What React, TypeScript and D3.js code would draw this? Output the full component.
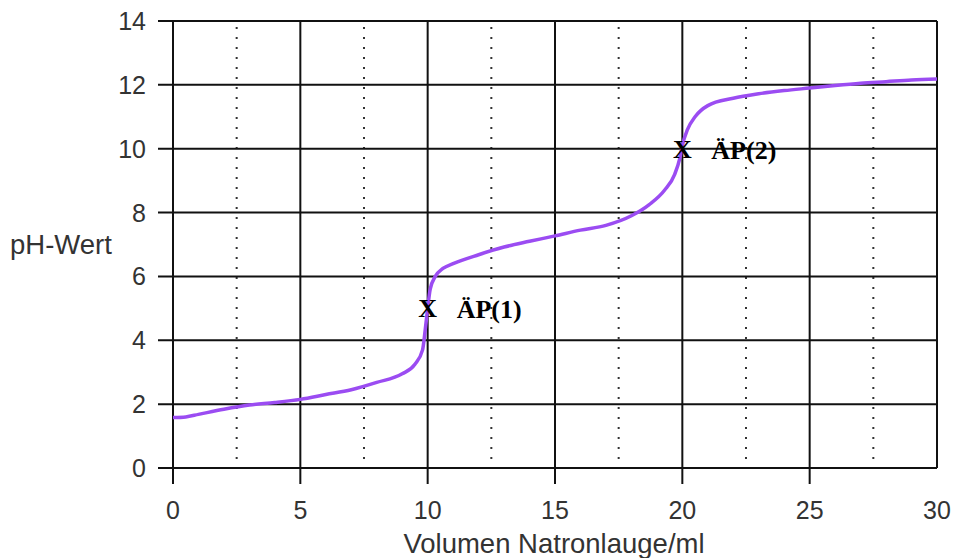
import { useRef, useEffect } from 'react';
import * as d3 from 'd3';

const volume = [0, 0.5, 1, 2, 3, 4, 5, 6, 7, 8, 9, 9.5, 9.8, 9.9, 10, 10.1, 10.3, 10.6, 11, 12, 13, 14, 15, 16, 17, 18, 18.7, 19.3, 19.7, 19.9, 20, 20.2, 20.5, 21, 22, 23, 24, 25, 26, 27, 28, 29, 30];
const ph = [1.58, 1.6, 1.68, 1.84, 1.97, 2.05, 2.15, 2.3, 2.45, 2.68, 2.95, 3.25, 3.7, 4.3, 5.0, 5.6, 6.0, 6.25, 6.4, 6.68, 6.92, 7.1, 7.27, 7.45, 7.6, 7.9, 8.25, 8.7, 9.2, 9.7, 10.1, 10.6, 11.0, 11.35, 11.58, 11.72, 11.82, 11.9, 11.98, 12.05, 12.1, 12.15, 12.18];
const xTicks = [0, 5, 10, 15, 20, 25, 30];
const yTicks = [0, 2, 4, 6, 8, 10, 12, 14];
const dottedX = [2.5, 7.5, 12.5, 17.5, 22.5, 27.5];
const markers = [
  { x: 10, y: 5, label: 'ÄP(1)' },
  { x: 20, y: 10, label: 'ÄP(2)' },
];

export default function App() {
  const svgRef = useRef<SVGSVGElement>(null);
  const width = 953;
  const height = 558;

  useEffect(() => {
    const svg = d3.select(svgRef.current);
    svg.selectAll('*').remove();

    const x = d3.scaleLinear().domain([0, 30]).range([173, 937]);
    const y = d3.scaleLinear().domain([0, 14]).range([468, 21]);
    const font = 'Arial, "Liberation Sans", sans-serif';
    const serif = '"Liberation Serif", "Times New Roman", serif';

    // dotted half-step lines
    svg.append('g')
      .selectAll('line')
      .data(dottedX)
      .join('line')
      .attr('x1', (d) => x(d))
      .attr('x2', (d) => x(d))
      .attr('y1', y(14) + 6)
      .attr('y2', y(0) - 4)
      .attr('stroke', '#333')
      .attr('stroke-width', 2)
      .attr('stroke-dasharray', '2 8');

    // horizontal grid lines
    svg.append('g')
      .selectAll('line')
      .data(yTicks)
      .join('line')
      .attr('x1', 158)
      .attr('x2', x(30))
      .attr('y1', (d) => y(d))
      .attr('y2', (d) => y(d))
      .attr('stroke', '#111')
      .attr('stroke-width', 2);

    // vertical grid lines
    svg.append('g')
      .selectAll('line')
      .data(xTicks)
      .join('line')
      .attr('x1', (d) => x(d))
      .attr('x2', (d) => x(d))
      .attr('y1', y(14))
      .attr('y2', (d) => (d === 30 ? y(0) : y(0) + 16))
      .attr('stroke', '#111')
      .attr('stroke-width', 2);

    // y tick labels
    svg.append('g')
      .selectAll('text')
      .data(yTicks)
      .join('text')
      .attr('x', 146)
      .attr('y', (d) => y(d) + 9)
      .attr('text-anchor', 'end')
      .attr('font-family', font)
      .attr('font-size', 25)
      .attr('fill', '#333')
      .text((d) => d);

    // x tick labels
    svg.append('g')
      .selectAll('text')
      .data(xTicks)
      .join('text')
      .attr('x', (d) => x(d))
      .attr('y', 519)
      .attr('text-anchor', 'middle')
      .attr('font-family', font)
      .attr('font-size', 25)
      .attr('fill', '#333')
      .text((d) => d);

    svg.append('text')
      .attr('x', 554)
      .attr('y', 553)
      .attr('text-anchor', 'middle')
      .attr('font-family', font)
      .attr('font-size', 27.5)
      .attr('fill', '#333')
      .text('Volumen Natronlauge/ml');

    svg.append('text')
      .attr('x', 10)
      .attr('y', 254)
      .attr('font-family', font)
      .attr('font-size', 27.5)
      .attr('fill', '#333')
      .text('pH-Wert');

    // titration curve
    const line = d3.line<number>()
      .x((d) => x(d))
      .y((_, i) => y(ph[i]))
      .curve(d3.curveMonotoneX);

    svg.append('path')
      .datum(volume)
      .attr('d', line)
      .attr('fill', 'none')
      .attr('stroke', '#9b4cf2')
      .attr('stroke-width', 3.5);

    // equivalence points
    const m = svg.append('g')
      .selectAll('g')
      .data(markers)
      .join('g');

    m.append('text')
      .attr('x', (d) => x(d.x))
      .attr('y', (d) => y(d.y) + 9)
      .attr('text-anchor', 'middle')
      .attr('font-family', serif)
      .attr('font-weight', 'bold')
      .attr('font-size', 26)
      .attr('fill', '#000')
      .text('X');

    m.append('text')
      .attr('x', (d) => x(d.x) + 29)
      .attr('y', (d) => y(d.y) + 10)
      .attr('font-family', serif)
      .attr('font-weight', 'bold')
      .attr('font-size', 26)
      .attr('fill', '#000')
      .text((d) => d.label);
  }, []);

  return (
    <div>
      <svg ref={svgRef} width={width} height={height} style={{ display: 'block', position: 'absolute', left: 0, top: 0 }} />
    </div>
  );
}
